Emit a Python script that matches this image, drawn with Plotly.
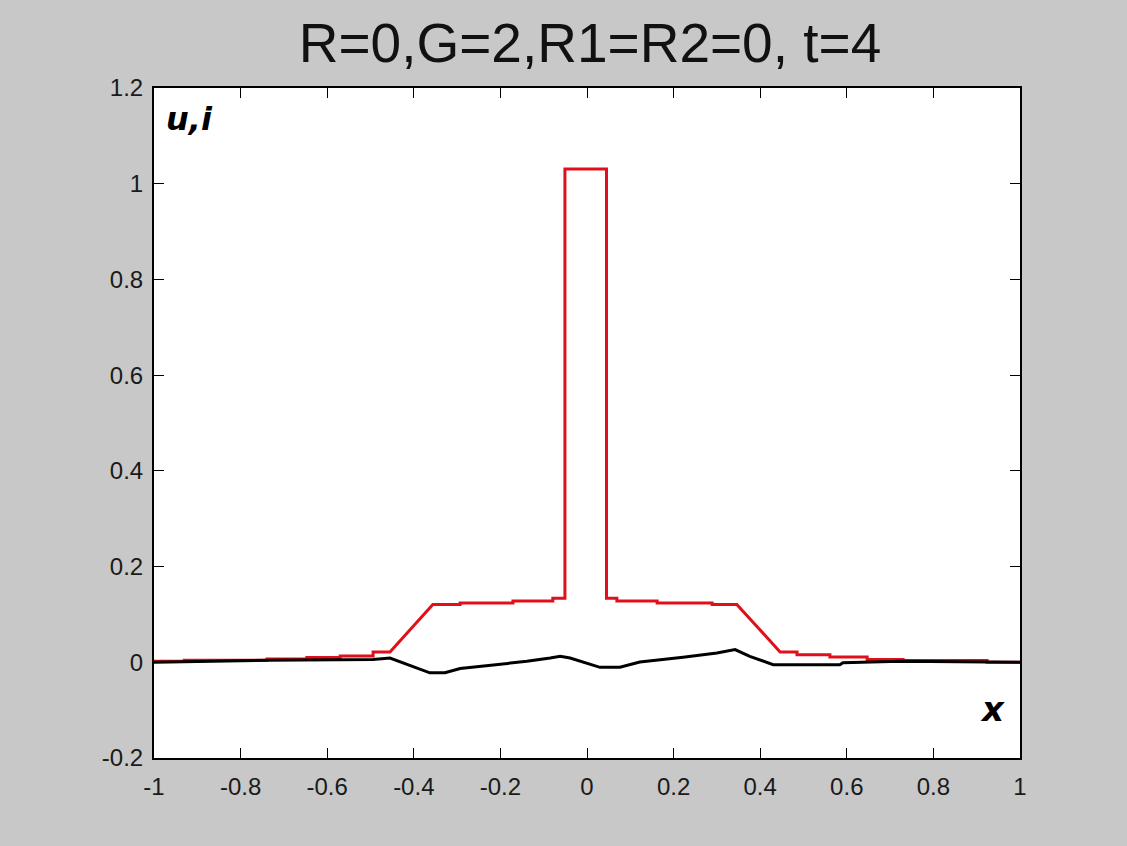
import plotly.graph_objects as go

# Transmission-line solution at t=4: voltage u (red) and current i (black) along x
u_x = [-1.0, -0.93, -0.93, -0.739, -0.739, -0.647, -0.647, -0.570, -0.570, -0.494,
       -0.494, -0.455, -0.356, -0.293, -0.293, -0.171, -0.171, -0.079, -0.079, -0.051,
       -0.051, 0.045, 0.045, 0.069, 0.069, 0.162, 0.162, 0.289, 0.289, 0.346,
       0.446, 0.485, 0.485, 0.561, 0.561, 0.647, 0.647, 0.730, 0.730, 0.924,
       0.924, 1.0]
u_y = [0.002, 0.002, 0.004, 0.004, 0.007, 0.007, 0.010, 0.010, 0.013, 0.013,
       0.0215, 0.0215, 0.121, 0.121, 0.124, 0.124, 0.128, 0.128, 0.134, 0.134,
       1.031, 1.031, 0.134, 0.134, 0.128, 0.128, 0.124, 0.124, 0.121, 0.121,
       0.0215, 0.0215, 0.016, 0.016, 0.011, 0.011, 0.0056, 0.0056, 0.0035, 0.0035,
       0.0, 0.0]

i_x = [-1.0, -0.739, -0.494, -0.455, -0.363, -0.328, -0.293, -0.208, -0.139, -0.085,
       -0.062, -0.039, 0.030, 0.076, 0.122, 0.222, 0.300, 0.342, 0.376, 0.430,
       0.584, 0.591, 0.723, 1.0]
i_y = [0.0, 0.004, 0.006, 0.009, -0.022, -0.022, -0.013, -0.005, 0.002, 0.009,
       0.0125, 0.009, -0.0105, -0.0105, 0.0006, 0.0105, 0.0195, 0.0265, 0.0125, -0.005,
       -0.005, -0.001, 0.002, 0.0]

x_ticks = [-1, -0.8, -0.6, -0.4, -0.2, 0, 0.2, 0.4, 0.6, 0.8, 1]
x_labels = ["-1", "-0.8", "-0.6", "-0.4", "-0.2", "0", "0.2", "0.4", "0.6", "0.8", "1"]
y_ticks = [-0.2, 0, 0.2, 0.4, 0.6, 0.8, 1, 1.2]
y_labels = ["-0.2", "0", "0.2", "0.4", "0.6", "0.8", "1", "1.2"]

title_text = "R=0,G=2,R1=R2=0, t=4"

fig = go.Figure()
fig.add_trace(go.Scatter(x=u_x, y=u_y, mode="lines",
                         line=dict(color="#e0101a", width=3), showlegend=False))
fig.add_trace(go.Scatter(x=i_x, y=i_y, mode="lines",
                         line=dict(color="#000000", width=3), showlegend=False))

tick_font = dict(family="Liberation Sans, Arial, sans-serif", size=24, color="#1a1a1a")
axis_common = dict(showline=True, linecolor="#000000", linewidth=2, mirror="ticks",
                   ticks="inside", ticklen=10, tickwidth=1, tickcolor="#000000",
                   showgrid=False, zeroline=False, tickfont=tick_font)

fig.update_xaxes(range=[-1, 1], tickmode="array", tickvals=x_ticks, ticktext=x_labels,
                 ticklabelstandoff=6, **axis_common)
fig.update_yaxes(range=[-0.2, 1.2], tickmode="array", tickvals=y_ticks, ticktext=y_labels,
                 ticklabelstandoff=4, **axis_common)

fig.update_layout(
    width=1127, height=846,
    paper_bgcolor="#c8c8c8", plot_bgcolor="#ffffff",
    margin=dict(l=154, r=107, t=88, b=88),
    title=dict(text=title_text, x=590 / 1127, xanchor="center", y=1 - 43 / 846,
               yanchor="middle",
               font=dict(family="Liberation Sans, Arial, sans-serif", size=55,
                         color="#111111")),
    annotations=[
        dict(text="<b><i>u,i</i></b>", xref="paper", yref="paper", x=0.012, y=0.985,
             xanchor="left", yanchor="top", showarrow=False,
             font=dict(family="DejaVu Sans, sans-serif", size=32, color="#000000")),
        dict(text="<b><i>x</i></b>", xref="paper", yref="paper", x=0.985, y=0.04,
             xanchor="right", yanchor="bottom", showarrow=False,
             font=dict(family="DejaVu Sans, sans-serif", size=34, color="#000000")),
    ],
)

fig.write_html("out.html")
